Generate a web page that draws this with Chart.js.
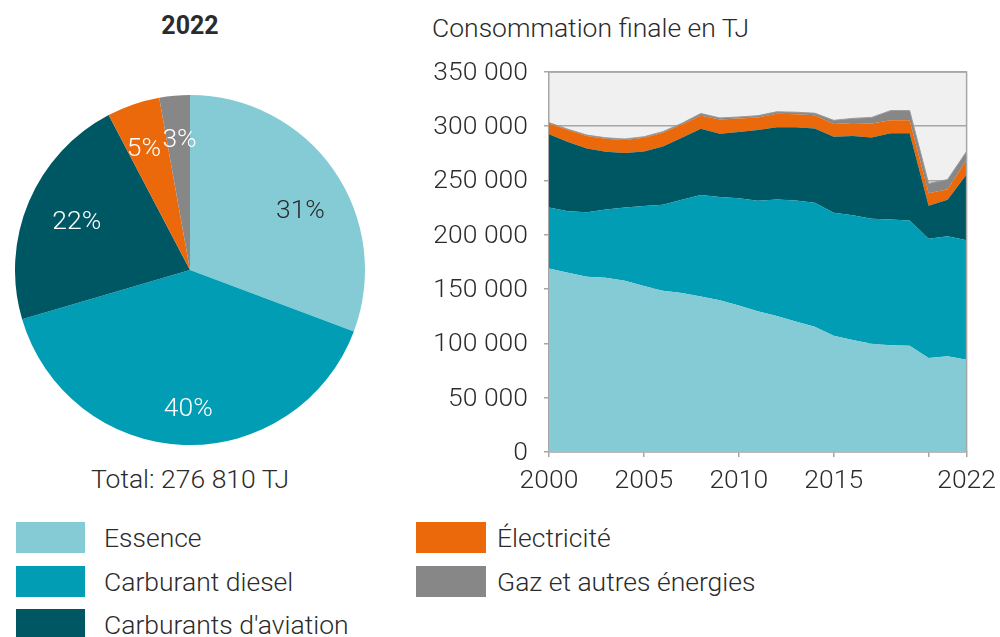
<!DOCTYPE html>
<html>
<head>
<meta charset="utf-8">
<script src="https://cdn.jsdelivr.net/npm/chart.js@4"></script>
<style>
  body { margin: 0; width: 1000px; height: 637px; background: #fff; overflow: hidden;
         font-family: "Roboto Light", Roboto, sans-serif; font-weight: 300; color: #2b2b2b; position: relative; }
  .abs { position: absolute; }
  #pieTitle { left: 90px; width: 200px; top: 11px; text-align: center; font-size: 25px; font-weight: 700;
              font-family: Roboto, sans-serif; }
  #areaTitle { left: 432px; top: 12px; font-size: 26.5px; }
  #total { left: 40px; width: 300px; top: 463px; text-align: center; font-size: 26.5px; }
  .sw { position: absolute; height: 31px; }
  .lt { position: absolute; font-size: 26.5px; line-height: 31px; }
</style>
</head>
<body>
<div id="pieTitle" class="abs">2022</div>
<div id="areaTitle" class="abs">Consommation finale en TJ</div>
<div id="total" class="abs">Total: 276 810 TJ</div>
<canvas id="pie" class="abs" width="350" height="350" style="left:15px;top:95px"></canvas>
<canvas id="area" class="abs" width="583" height="470" style="left:420px;top:40px"></canvas>
<div id="legend"></div>

<script>
// =========================
// DATA
// =========================
const years = [2000, 2001, 2002, 2003, 2004, 2005, 2006, 2007, 2008, 2009, 2010,
               2011, 2012, 2013, 2014, 2015, 2016, 2017, 2018, 2019, 2020, 2021, 2022];

const essence  = [168900, 165000, 161400, 160500, 157800, 152900, 148400, 146300, 143300, 139700, 134800,
                  129700, 125200, 120100, 115300, 107100, 103200, 99600, 98400, 97800, 86600, 88100, 85000];
const diesel   = [56300, 56600, 59300, 62900, 67400, 73600, 79300, 85900, 93400, 95200, 98900,
                  101600, 107300, 111500, 114200, 113100, 114800, 115100, 115700, 115400, 109700, 110600, 110000];
const aviation = [67300, 63900, 58800, 53100, 50100, 50300, 53600, 57200, 60900, 58200, 60900,
                  65100, 66600, 67500, 68400, 70200, 73000, 74800, 79300, 80200, 30500, 33500, 60500];
const elec     = [10000, 10900, 11500, 12000, 12100, 12600, 12700, 12100, 12100, 13000, 12400,
                  11700, 12400, 12000, 12100, 11700, 12000, 12900, 12000, 12000, 11500, 9700, 13500];
const gas      = [800, 800, 800, 800, 800, 900, 1000, 1200, 2000, 1500, 1500,
                  1600, 1800, 1800, 2000, 3300, 4200, 5700, 9000, 9000, 9000, 9000, 7800];

const seriesNames = ["Essence", "Carburant diesel", "Carburants d'aviation", "Électricité", "Gaz et autres énergies"];
const seriesColors = ["#84cbd6", "#009db4", "#005764", "#eb690b", "#878787"];

// pie 2022 (TJ) and shown shares
const pie2022 = [85000, 110000, 60500, 13500, 7800];
const pieLabels = ["31%", "40%", "22%", "5%", "3%"];
const pieLabelColors = ["#2b2b2b", "#fff", "#fff", "#fff", "#fff"];
// small label nudges, px
const pieNudge = [[4, 14], [3, 9], [6, 2], [-4, 1], [1, -2]];

const xTicks = [2000, 2005, 2010, 2015, 2020, 2022];
const xLabeled = [2000, 2005, 2010, 2015, 2022];

const FONT = "\"Roboto Light\", Roboto, sans-serif";
Chart.defaults.font.family = FONT;
Chart.defaults.font.weight = "300";
Chart.defaults.color = "#2b2b2b";

// =========================
// PIE
// =========================
const pieText = {
  id: "pieText",
  afterDatasetsDraw(chart) {
    const ctx = chart.ctx;
    chart.getDatasetMeta(0).data.forEach((arc, i) => {
      const p = arc.getProps(["startAngle", "endAngle", "outerRadius", "x", "y"], true);
      const a = (p.startAngle + p.endAngle) / 2;
      const r = p.outerRadius * 0.74;
      ctx.save();
      ctx.font = "300 26.5px " + FONT;
      ctx.fillStyle = pieLabelColors[i];
      ctx.textAlign = "center";
      ctx.textBaseline = "middle";
      ctx.fillText(pieLabels[i], p.x + r * Math.cos(a) + pieNudge[i][0], p.y + r * Math.sin(a) + pieNudge[i][1]);
      ctx.restore();
    });
  }
};

new Chart(document.getElementById("pie"), {
  type: "pie",
  data: {
    labels: seriesNames,
    datasets: [{ data: pie2022, backgroundColor: seriesColors, borderWidth: 0 }]
  },
  options: {
    responsive: false,
    animation: false,
    plugins: { legend: { display: false }, tooltip: { enabled: false } }
  },
  plugins: [pieText]
});

// =========================
// STACKED AREA
// =========================
const plotBox = {
  id: "plotBox",
  beforeDraw(chart) {
    const a = chart.chartArea, ctx = chart.ctx;
    ctx.save();
    ctx.fillStyle = "#f0f0f0";
    ctx.fillRect(a.left, a.top, a.right - a.left, a.bottom - a.top);
    ctx.restore();
  },
  afterDatasetsDraw(chart) {
    const a = chart.chartArea, ctx = chart.ctx;
    ctx.save();
    ctx.strokeStyle = "#a6a6a6";
    ctx.lineWidth = 1.5;
    ctx.beginPath();
    ctx.moveTo(a.left, a.top);
    ctx.lineTo(a.right, a.top);
    ctx.lineTo(a.right, a.bottom);
    ctx.stroke();
    ctx.restore();
  }
};

const allSeries = [essence, diesel, aviation, elec, gas];
const areaDatasets = allSeries.map((vals, k) => ({
  label: seriesNames[k],
  data: years.map((y, i) => ({ x: y, y: vals[i] })),
  backgroundColor: seriesColors[k],
  borderColor: k === 4 ? "#9b9b9b" : seriesColors[k],
  borderWidth: k === 4 ? 1 : 0,
  pointRadius: 0,
  tension: 0,
  fill: k === 0 ? "origin" : "-1"
}));

const fmt = v => String(v).replace(/\B(?=(\d{3})+(?!\d))/g, " ");

new Chart(document.getElementById("area"), {
  type: "line",
  data: { datasets: areaDatasets },
  options: {
    responsive: false,
    animation: false,
    layout: { padding: { top: 25, right: 23, left: 0, bottom: 0 } },
    plugins: { legend: { display: false }, tooltip: { enabled: false } },
    scales: {
      x: {
        type: "linear",
        min: 2000, max: 2022,
        afterBuildTicks: s => { s.ticks = xTicks.map(v => ({ value: v })); },
        afterFit: s => { s.height = 58; },
        ticks: {
          autoSkip: false, maxRotation: 0, padding: 7,
          font: { size: 26.5 },
          callback: v => xLabeled.includes(v) ? String(v) : ""
        },
        grid: { drawOnChartArea: false, color: "#a6a6a6", tickLength: 5, lineWidth: 1.5 },
        border: { color: "#a6a6a6", width: 1.5 }
      },
      y: {
        stacked: true,
        min: 0, max: 350000,
        afterFit: s => { s.width = 129; },
        ticks: { stepSize: 50000, padding: 16, font: { size: 26.5 }, callback: v => fmt(v) },
        grid: { color: "#a6a6a6", tickLength: 5, lineWidth: 1.5 },
        border: { color: "#a6a6a6", width: 1.5 }
      }
    }
  },
  plugins: [plotBox]
});

// =========================
// LEGEND
// =========================
const legendPos = [
  { sx: 16, sw: 69, tx: 104, y: 522 },
  { sx: 16, sw: 69, tx: 104, y: 566 },
  { sx: 16, sw: 69, tx: 104, y: 609 },
  { sx: 416, sw: 70, tx: 497, y: 522 },
  { sx: 416, sw: 70, tx: 497, y: 566 }
];
const legend = document.getElementById("legend");
seriesNames.forEach((name, i) => {
  const p = legendPos[i];
  const sw = document.createElement("div");
  sw.className = "sw";
  sw.style.cssText = `left:${p.sx}px;top:${p.y}px;width:${p.sw}px;background:${seriesColors[i]}`;
  const t = document.createElement("div");
  t.className = "lt";
  t.style.cssText = `left:${p.tx}px;top:${p.y}px`;
  t.textContent = name;
  legend.appendChild(sw);
  legend.appendChild(t);
});
</script>
</body>
</html>
